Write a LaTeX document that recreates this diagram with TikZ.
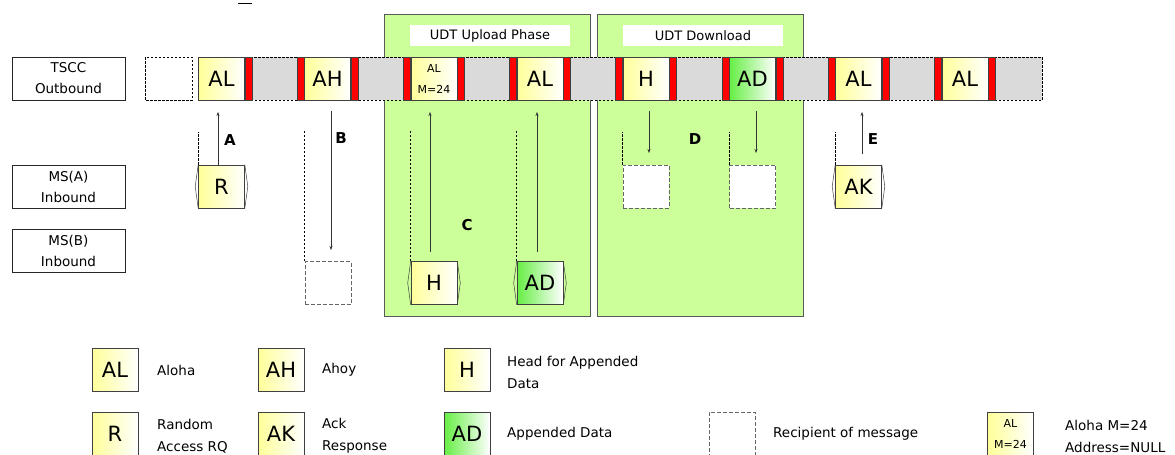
\documentclass[tikz,border=0pt]{standalone}
\usepackage{fontspec}
\setmainfont{DejaVu Sans}
\usetikzlibrary{arrows.meta}
\definecolor{panelgreen}{HTML}{CCFF99}
\definecolor{msgyellow}{HTML}{FFFF99}
\definecolor{msggreen}{HTML}{66EE44}
\definecolor{stripgray}{HTML}{DADADA}
\begin{document}
\begin{tikzpicture}[x=1pt,y=-1pt,
  msg/.style={draw=black!75, line width=0.6pt, left color=msgyellow, right color=white,
    minimum width=46pt, minimum height=43pt, inner sep=0pt, font=\fontsize{21}{24}\selectfont},
  msgg/.style={msg, left color=msggreen},
  msgsmall/.style={msg, align=center, font=\fontsize{11}{21}\selectfont},
  redbar/.style={draw=black!75, fill=red, line width=0.5pt, minimum width=7pt,
    minimum height=43pt, inner sep=0pt},
  recip/.style={draw=black!60, line width=0.8pt, dash pattern=on 4pt off 2pt, fill=white,
    minimum width=46pt, minimum height=43pt, inner sep=0pt},
  lbl/.style={draw=black!85, line width=0.6pt, minimum width=113pt, minimum height=43pt,
    inner sep=0pt, align=center, font=\fontsize{13.5}{21}\selectfont},
  title/.style={fill=white, minimum width=160pt, minimum height=21pt, inner sep=0pt,
    font=\fontsize{13}{15}\selectfont},
  arr/.style={-{Stealth[length=4pt,width=3pt]}, line width=0.5pt, black!80},
  guide/.style={line width=0.5pt, dash pattern=on 2.5pt off 1.5pt},
  tag/.style={font=\bfseries\fontsize{15}{18}\selectfont},
  legtxt/.style={anchor=west, align=left, inner sep=0pt, font=\fontsize{13.5}{22}\selectfont}]
\useasboundingbox (0,0) rectangle (1175,455);

% tiny mark at top
\draw[line width=0.8pt] (238,3) -- (252,3);

% phase panels
\draw[draw=black!65, line width=0.7pt, fill=panelgreen] (384,14) rectangle (590,316);
\draw[draw=black!65, line width=0.7pt, fill=panelgreen] (597,14) rectangle (803,316);
\node[title] (t1) at (490,35.5) {UDT Upload Phase};
\node[title] (t2) at (703,35.5) {UDT Download};

% channel labels
\node[lbl] (tscc) at (68.5,78.5) {TSCC\\Outbound};
\node[lbl] (msa) at (68.5,186.5) {MS(A)\\Inbound};
\node[lbl] (msb) at (68.5,251) {MS(B)\\Inbound};

% outbound strip
\draw[fill=stripgray, draw=none] (198,57) rectangle (1042,100);
\draw[line width=0.6pt, dash pattern=on 2.5pt off 1.5pt] (198,57) -- (1042,57) -- (1042,100) -- (198,100);
\draw[line width=0.6pt, dash pattern=on 2.5pt off 1.5pt, fill=white] (145,57) rectangle (192,100);

% slots
\node[msg] (al1) at (221.5,78.5) {AL};
\node[msg] (ah) at (327.5,78.5) {AH};
\node[msgsmall] (alm) at (434,78.5) {AL\\M=24};
\node[msg] (al2) at (540,78.5) {AL};
\node[msg] (hd) at (646,78.5) {H};
\node[msgg] (ad) at (752.5,78.5) {AD};
\node[msg] (al3) at (858.5,78.5) {AL};
\node[msg] (al4) at (965,78.5) {AL};
\node[redbar, anchor=west] at (al1.east) {};
\foreach \n in {ah,alm,al2,hd,ad,al3,al4}{
  \node[redbar, anchor=east] at (\n.west) {};
  \node[redbar, anchor=west] at (\n.east) {};
}

% inbound messages
\node[msg] (r) at (221.5,186.5) {R};
\node[recip] (rb) at (328,283) {};
\node[msg] (h2) at (434,283) {H};
\node[msgg] (ad2) at (540,283) {AD};
\node[recip] (rd1) at (646,186.5) {};
\node[recip] (rd2) at (752.5,186.5) {};
\node[msg] (ak) at (858.5,186.5) {AK};
\foreach \n in {r,h2,ad2,ak}{
  \draw[black!75, line width=0.5pt] (\n.north west) -- ([xshift=-3pt]\n.west) -- (\n.south west);
  \draw[black!75, line width=0.5pt] (\n.north east) -- ([xshift=3pt]\n.east) -- (\n.south east);
}

% arrows
\coordinate (aT) at (218,112);
\draw[arr] (aT |- r.north) -- (aT);
\coordinate (bS) at (331,111);
\coordinate (bE) at (331,250);
\draw[arr] (bS) -- (bE);
\coordinate (c1T) at (430,112);
\coordinate (c1S) at (430,252);
\draw[arr] (c1S) -- (c1T);
\coordinate (c2T) at (537,112);
\coordinate (c2S) at (537,252);
\draw[arr] (c2S) -- (c2T);
\coordinate (d1S) at (649,111);
\coordinate (d1E) at (649,153);
\draw[arr] (d1S) -- (d1E);
\coordinate (d2S) at (756,111);
\coordinate (d2E) at (756,153);
\draw[arr] (d2S) -- (d2E);
\coordinate (eS) at (862,154);
\coordinate (eT) at (862,112);
\draw[arr] (eS) -- (eT);

% guides
\draw[guide] (r.north west) -- ++(0,-33);
\draw[guide] (rb.north west) -- ++(0,-130);
\draw[guide] (h2.north west) -- ++(0,-130);
\draw[guide] (ad2.north west) -- ++(0,-130);
\draw[guide] (rd1.north west) -- ++(0,-33);
\draw[guide] (rd2.north west) -- ++(0,-33);
\draw[guide] (ak.north west) -- ++(0,-33);

% tags
\node[tag] (ta) at (230,140) {A};
\node[tag] (tb) at (341,138) {B};
\node[tag] (tc) at (467,225) {C};
\node[tag] (td) at (695,139) {D};
\node[tag] (te) at (873,139) {E};

% legend
\node[msg] (lal) at (115,370) {AL};
\node[legtxt] (lalt) at (157,370) {Aloha};
\node[msg] (lah) at (281,370) {AH};
\node[legtxt] (laht) at (322,370) {Ahoy};
\node[msg] (lh) at (467,370) {H};
\node[legtxt] (lht) at (507,372) {Head for Appended\\Data};
\node[msg, minimum height=44pt] (lr) at (115,434) {R};
\node[legtxt] (lrt) at (157,436) {Random\\Access RQ};
\node[msg, minimum height=44pt] (lak) at (281,434) {AK};
\node[legtxt] (lakt) at (322,436) {Ack\\Response};
\node[msgg, minimum height=44pt] (lad) at (467,434) {AD};
\node[legtxt] (ladt) at (507,434) {Appended Data};
\node[recip, minimum height=46pt] (lrc) at (732,435) {};
\node[legtxt] (lrct) at (773,434) {Recipient of message};
\node[msgsmall, minimum height=44pt] (lalm) at (1010.5,434) {AL\\M=24};
\node[legtxt] (lalmt) at (1065,436) {Aloha M=24\\Address=NULL};
\end{tikzpicture}
\end{document}
